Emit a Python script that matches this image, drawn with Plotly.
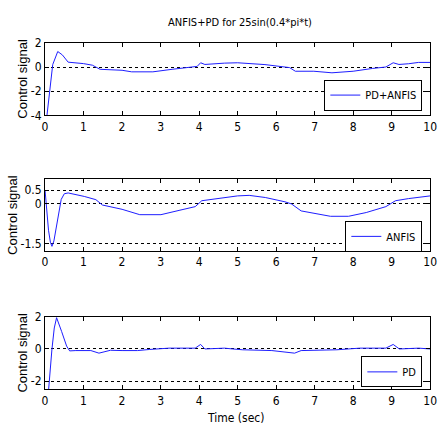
import plotly.graph_objects as go

# ---- data ----
t_pdanfis = [0, 0.05, 0.2, 0.33, 0.45, 0.6, 1.0, 1.23, 1.43, 2.0, 2.25, 2.8, 3.3, 3.8, 3.95,
             4.04, 4.15, 4.66, 5.0, 5.71, 6.14, 6.35, 6.5, 6.98, 7.45, 8.0, 8.5, 8.85,
             9.04, 9.19, 9.44, 9.7, 10]
u_pdanfis = [-4.1, -4.0, 0.2, 1.28, 1.0, 0.4, 0.28, 0.15, -0.19, -0.27, -0.4, -0.4, -0.19,
             -0.05, 0.05, 0.35, 0.21, 0.32, 0.35, 0.2, 0.05, -0.05, -0.35, -0.35, -0.48,
             -0.35, -0.12, 0.0, 0.35, 0.21, 0.27, 0.38, 0.38]

t_anfis = [0, 0.04, 0.09, 0.14, 0.18, 0.23, 0.3, 0.36, 0.42, 0.5, 0.6, 1.02, 1.32, 1.49,
           2.0, 2.46, 3.01, 3.48, 3.9, 4.07, 4.5, 5.0, 5.3, 5.72, 6.23, 6.4, 6.65, 6.98,
           7.41, 7.88, 8.34, 8.85, 9.1, 9.44, 10]
u_anfis = [0.5, -0.3, -1.0, -1.45, -1.6, -1.4, -0.8, -0.25, 0.15, 0.36, 0.39, 0.26, 0.14,
           -0.06, -0.22, -0.42, -0.42, -0.26, -0.12, 0.1, 0.18, 0.28, 0.3, 0.22, 0.06,
           -0.02, -0.28, -0.36, -0.48, -0.48, -0.34, -0.12, 0.1, 0.18, 0.28]

t_pd = [0, 0.09, 0.18, 0.24, 0.3, 0.36, 0.43, 0.56, 0.64, 0.8, 1.19, 1.4, 1.7, 2.0, 2.4,
        2.72, 3.22, 3.9, 4.04, 4.15, 4.66, 4.87, 5.13, 5.89, 6.48, 6.65, 7.58, 8.17, 8.85,
        9.04, 9.2, 9.7, 10]
u_pd = [-4.0, -2.6, 0.0, 1.3, 1.94, 1.6, 1.09, 0.18, -0.12, -0.1, -0.1, -0.26, -0.08, -0.1,
        -0.1, -0.03, 0.05, 0.05, 0.28, 0.0, 0.05, 0.0, -0.05, -0.1, -0.26, -0.1, -0.05,
        0.05, 0.05, 0.28, 0.0, 0.05, 0.0]

x_ticks = [0, 1, 2, 3, 4, 5, 6, 7, 8, 9, 10]
y_ticks_1 = [-4, -2, 0, 2]
y_ticks_2 = [-1.5, 0, 0.5]
y_ticks_3 = [-2, 0, 2]

title_text = "ANFIS+PD for 25sin(0.4*pi*t)"
ylabel = "Control signal"
xlabel = "Time (sec)"

# ---- layout geometry ----
W, H = 444, 435
NARROW = "Liberation Sans Narrow, Arial Narrow, DejaVu Sans Condensed, Liberation Sans, sans-serif"
WIDE = "Liberation Sans, Arial, sans-serif"
LINE = "rgb(30,30,255)"

xdom = [43 / W, 437 / W]
panels = [(37, 112), (178, 252), (320, 395)]
ydoms = [[1 - b / H, 1 - t / H] for t, b in panels]

fig = go.Figure()
series = [(t_pdanfis, u_pdanfis, "PD+ANFIS"), (t_anfis, u_anfis, "ANFIS"), (t_pd, u_pd, "PD")]
for i, (t, u, name) in enumerate(series):
    sfx = "" if i == 0 else str(i + 1)
    fig.add_trace(go.Scatter(x=t, y=u, mode="lines", name=name,
                             line=dict(color=LINE, width=1),
                             xaxis="x" + sfx, yaxis="y" + sfx,
                             legend="legend" + sfx))

axis_common = dict(showline=True, linecolor="black", linewidth=1, mirror="allticks",
                   ticks="inside", ticklen=4, tickcolor="black",
                   tickfont=dict(family=NARROW, size=12, color="black"), zeroline=False)

yranges = [[-4, 2], [-1.77, 0.9], [-2.5, 2]]
yticks = [y_ticks_1, y_ticks_2, y_ticks_3]
yticktext = [["-4", "-2", "0", "2"], ["-1.5", "0", "0.5"], ["-2", "0", "2"]]
legend_pos = [(429, 75), (429, 221), (429, 361)]
label_x = [20, 9, 20]

layout = dict(width=W, height=H, margin=dict(l=0, r=0, t=0, b=0),
              paper_bgcolor="white", plot_bgcolor="white", showlegend=True,
              title=dict(text=title_text, x=240 / W, xanchor="center", y=1 - 22 / H,
                         yanchor="middle", font=dict(family=NARROW, size=11, color="black")))
annotations = []
for i in range(3):
    sfx = "" if i == 0 else str(i + 1)
    xa = dict(axis_common, domain=xdom, range=[0, 10], tickmode="array", tickvals=x_ticks,
              showgrid=False, anchor="y" + sfx)
    ya = dict(axis_common, domain=ydoms[i], range=yranges[i], tickmode="array",
              tickvals=yticks[i], ticktext=yticktext[i], showgrid=True, gridcolor="black",
              gridwidth=1, griddash="dot", anchor="x" + sfx)
    layout["xaxis" + sfx] = xa
    layout["yaxis" + sfx] = ya
    lx, ly = legend_pos[i]
    layout["legend" + sfx] = dict(x=lx / W, xanchor="right", y=1 - ly / H, yanchor="top",
                                  bgcolor="white", bordercolor="black", borderwidth=1,
                                  itemwidth=30, font=dict(family=NARROW, size=11, color="black"))
    t, b = panels[i]
    annotations.append(dict(text=ylabel, xref="paper", yref="paper", x=label_x[i] / W,
                            y=1 - (t + b) / 2 / H, textangle=-90, showarrow=False,
                            xanchor="center", yanchor="middle",
                            font=dict(family=WIDE, size=13, color="black")))
annotations.append(dict(text=xlabel, xref="paper", yref="paper", x=238 / W, y=1 - 425 / H,
                        showarrow=False, xanchor="center", yanchor="middle",
                        font=dict(family=NARROW, size=12, color="black")))
layout["annotations"] = annotations
fig.update_layout(**layout)
fig.write_html("out.html")
